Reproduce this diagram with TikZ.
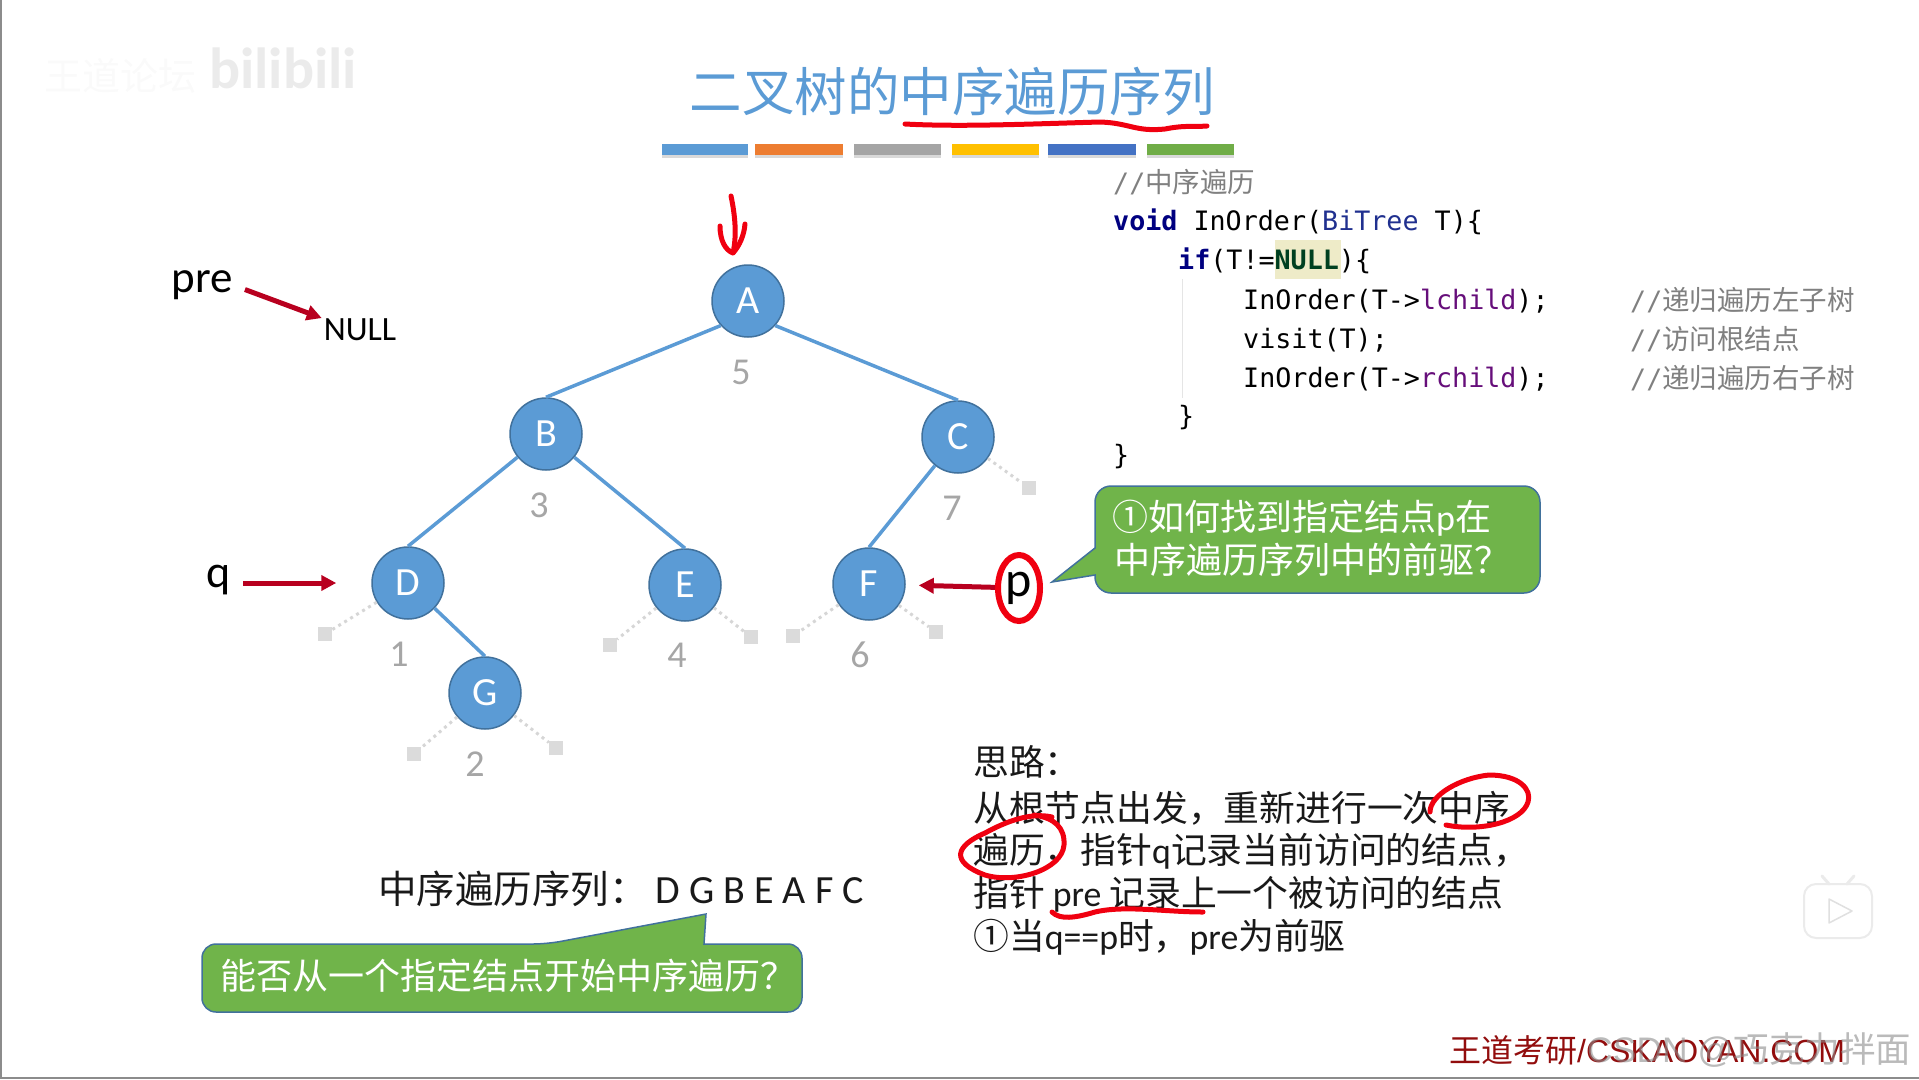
\documentclass[tikz,border=0pt]{standalone}
\usepackage{fontspec}
\setmainfont{Carlito}
\setmonofont{DejaVu Sans Mono}
\newfontfamily\cjk{Noto Sans CJK SC}
\newfontfamily\siteface{Liberation Sans}
\usepackage{xcolor}
\usetikzlibrary{shapes.geometric, shadows, positioning, calc, arrows.meta}

\definecolor{treeblue}{HTML}{5B9BD5}
\definecolor{treeedge}{HTML}{41719C}
\definecolor{boxgreen}{HTML}{70B44A}
\definecolor{darkarrow}{HTML}{B8001F}
\definecolor{inkred}{HTML}{F00010}
\definecolor{keyblue}{HTML}{000080}
\definecolor{typeblue}{HTML}{20308F}
\definecolor{fieldpurple}{HTML}{660E7A}
\definecolor{nullgreen}{HTML}{004020}
\definecolor{nullmark}{HTML}{EEEBC8}
\definecolor{barorange}{HTML}{ED7D31}
\definecolor{bargray}{HTML}{A5A5A5}
\definecolor{baryellow}{HTML}{FFC000}
\definecolor{barblue}{HTML}{4472C4}
\definecolor{bargreen}{HTML}{70AD47}

\newcommand{\notecjk}{\cjk\fontsize{27.5}{30}\selectfont}

\tikzset{
    treenode/.style={circle, draw=treeedge, fill=treeblue, line width=1.5pt, minimum size=72pt,
        inner sep=0pt, text=white, font=\fontsize{40}{44}\selectfont},
    treelink/.style={treeblue, line width=3.5pt},
    emptybox/.style={rectangle, fill=black!14, minimum size=14pt, inner sep=0pt},
    emptylink/.style={black!16, line width=3pt, dash pattern=on 3pt off 4pt},
    ordernum/.style={text=black!35, font=\fontsize{38}{42}\selectfont},
    redarrow/.style={darkarrow, line width=5pt, -{Triangle[length=15pt,width=15pt]}},
    inkstroke/.style={inkred, line width=5pt, line cap=round, line join=round},
    colorbar/.style={fill=#1, drop shadow={shadow xshift=0pt, shadow yshift=-2.5pt, opacity=0.3}},
    codeline/.style={anchor=base west, inner sep=0pt, font=\fontsize{26.7}{30}\selectfont\ttfamily},
    codenote/.style={anchor=base west, inner sep=0pt, text=black!50, font=\fontsize{26.7}{30}\selectfont\ttfamily},
    bodyline/.style={anchor=base west, inner sep=0pt, text=black!90, font=\fontsize{35.8}{40}\selectfont\cjk},
    calloutbox/.style={fill=boxgreen, draw=treeedge, line width=1.5pt},
    callouttext/.style={anchor=base west, inner sep=0pt, text=white, font=\fontsize{36}{40}\selectfont\cjk},
}

\begin{document}
\begin{tikzpicture}[x=1pt, y=-1pt]
        \useasboundingbox (0,0) rectangle (1919,1079);
        \draw[black!45, line width=2pt] (1,0) -- (1,1078) -- (1919,1078);

        % ==========================================
        % Faint Video Marks
        % ==========================================
        \node[text=black!2, font=\fontsize{38}{42}\selectfont\cjk] (forum) at (120,76) {王道论坛};
        \node[text=black!8, font=\fontsize{58}{62}\selectfont\bfseries] (bililogo) at (283,68) {bilibili};

        \draw[fill=white, draw=black!8, line width=2pt, rounded corners=12pt] (1804,884) rectangle (1872,938);
        \draw[black!8, line width=3pt, line cap=round] (1822,876) -- (1829,884) (1854,876) -- (1847,884);
        \draw[fill=white, draw=black!12, line width=1.5pt, line join=round] (1829,899) -- (1852,911) -- (1829,923) -- cycle;

        % ==========================================
        % Title and Colour Bars
        % ==========================================
        \node[text=treeblue, font=\fontsize{52.5}{56}\selectfont\cjk] (title) at (952,92) {二叉树的中序遍历序列};
        \draw[inkstroke] (905,124) .. controls (960,127) and (1030,124) .. (1100,122)
              .. controls (1130,123) and (1135,132) .. (1165,129) .. controls (1185,125) and (1195,127) .. (1207,126);

        \path[colorbar=treeblue]   (662,144) rectangle (748,155);
        \path[colorbar=barorange]  (755,144) rectangle (843,155);
        \path[colorbar=bargray]    (854,144) rectangle (941,155);
        \path[colorbar=baryellow]  (952,144) rectangle (1039,155);
        \path[colorbar=barblue]    (1048,144) rectangle (1136,155);
        \path[colorbar=bargreen]   (1147,144) rectangle (1234,155);

        % ==========================================
        % Binary Tree
        % ==========================================
        \node[treenode] (A) at (748,301) {A};
        \node[treenode] (B) at (546,434) {B};
        \node[treenode] (C) at (958,437) {C};
        \node[treenode] (D) at (408,583) {D};
        \node[treenode] (E) at (685,585) {E};
        \node[treenode] (F) at (869,584) {F};
        \node[treenode] (G) at (485,693) {G};

        \draw[treelink] (A.222) -- (B.north);
        \draw[treelink] (A.318) -- (C.north);
        \draw[treelink] (B) -- (D.north);
        \draw[treelink] (B) -- (E.north);
        \draw[treelink] (C) -- (F.north);
        \draw[treelink] (D) -- (G.north);

        % Empty children
        \node[emptybox] (nullC) at (1029,488) {};
        \node[emptybox] (nullD) at (325,634) {};
        \node[emptybox] (nullEl) at (610,645) {};
        \node[emptybox] (nullEr) at (751,637) {};
        \node[emptybox] (nullFl) at (793,636) {};
        \node[emptybox] (nullFr) at (936,632) {};
        \node[emptybox] (nullGl) at (414,754) {};
        \node[emptybox] (nullGr) at (556,748) {};

        \draw[emptylink] (C) -- (nullC);
        \draw[emptylink] (D) -- (nullD);
        \draw[emptylink] (E) -- (nullEl);
        \draw[emptylink] (E) -- (nullEr);
        \draw[emptylink] (F) -- (nullFl);
        \draw[emptylink] (F) -- (nullFr);
        \draw[emptylink] (G) -- (nullGl);
        \draw[emptylink] (G) -- (nullGr);

        % Visit order
        \node[ordernum] (numA) at (741,372) {5};
        \node[ordernum] (numB) at (539,505) {3};
        \node[ordernum] (numC) at (952,508) {7};
        \node[ordernum] (numD) at (399,654) {1};
        \node[ordernum] (numE) at (677,655) {4};
        \node[ordernum] (numF) at (860,655) {6};
        \node[ordernum] (numG) at (475,764) {2};

        % ==========================================
        % Pointers
        % ==========================================
        \node[inner sep=0pt, font=\fontsize{45}{48}\selectfont] (pre) at (202,285) {pre};
        \node[inner sep=0pt, font=\fontsize{34}{38}\selectfont] (nullval) at (360,330) {NULL};
        \draw[redarrow, shorten <=13pt, shorten >=2pt] (pre.east) -- (nullval.north west);

        \node[inner sep=0pt, font=\fontsize{46}{50}\selectfont] (q) at (219,580) {q};
        \draw[redarrow, shorten <=12pt, shorten >=35pt] (q.east |- D) -- (D);

        \node[ellipse, draw=inkred, line width=6pt, inner sep=0pt, minimum width=42pt, minimum height=66pt,
              font=\fontsize{50}{54}\selectfont] (p) at (1019,588) {p};
        \draw[redarrow, shorten >=13pt] (p) -- (F);

        % Hand-drawn arrow above the root
        \draw[inkstroke] (731,196) .. controls (735,215) and (737,235) .. (733,253);
        \draw[inkstroke] (720,226) .. controls (720,240) and (725,250) .. (733,253) .. controls (740,245) and (744,235) .. (745,224);

        % ==========================================
        % Code
        % ==========================================
        \node[codenote] (code1) at (1113,192) {//{\notecjk 中序遍历}};
        \node[codeline] (code2) at (1113,230) {\textbf{\textcolor{keyblue}{void}} InOrder(\textcolor{typeblue}{BiTree} T)\{};
        \fill[nullmark] (1275,240) rectangle (1341,279);
        \node[codeline] (code3) at (1178,269) {\textbf{\textcolor{keyblue}{if}}(T!=\textbf{\textcolor{nullgreen}{NULL}})\{};
        \draw[black!10, line width=1pt] (1182,279) -- (1182,398);
        \node[codeline] (code4) at (1243,309) {InOrder(T->\textcolor{fieldpurple}{lchild});};
        \node[codeline] (code5) at (1243,348) {visit(T);};
        \node[codeline] (code6) at (1243,387) {InOrder(T->\textcolor{fieldpurple}{rchild});};
        \node[codeline] (code7) at (1178,425) {\}};
        \node[codeline] (code8) at (1113,464) {\}};

        \node[codenote] (note4) at (1630,310) {//{\notecjk 递归遍历左子树}};
        \node[codenote] (note5) at (1630,349) {//{\notecjk 访问根结点}};
        \node[codenote] (note6) at (1630,388) {//{\notecjk 递归遍历右子树}};

        % ==========================================
        % Callouts
        % ==========================================
        \draw[calloutbox, rounded corners=16pt] (1095,548) -- (1095,486) -- (1540,486) -- (1540,593) -- (1095,593)
              [sharp corners] -- (1095,575) -- (1052,582) -- cycle;
        \node[callouttext] (ask1) at (1112,530) {①如何找到指定结点{\rmfamily p}在};
        \node[callouttext] (ask2) at (1114,573) {中序遍历序列中的前驱？};

        \draw[calloutbox, rounded corners=14pt] (202,944) -- (547,944) [sharp corners] -- (706,914) -- (704,944)
              [rounded corners=14pt] -- (802,944) -- (802,1012) -- (202,1012) -- cycle;
        \node[callouttext] (ask3) at (220,989) {能否从一个指定结点开始中序遍历？};

        % ==========================================
        % Sequence and Notes
        % ==========================================
        \node[bodyline, font=\fontsize{38.5}{42}\selectfont\cjk] (seq) at (378,903)
              {中序遍历序列：\hspace{8pt}{\rmfamily\fontsize{40}{42}\selectfont D G B E A F C}};

        \node[bodyline] (idea0) at (973,775) {思路：};
        \node[bodyline] (idea1) at (973,821) {从根节点出发，重新进行一次中序};
        \node[bodyline] (idea2) at (973,863) {遍历，指针{\rmfamily q}记录当前访问的结点，};
        \node[bodyline] (idea3) at (973,906) {指针 {\rmfamily pre} 记录上一个被访问的结点};
        \node[bodyline] (idea4) at (973,949) {①当{\rmfamily q==p}时，{\rmfamily pre}为前驱};

        \draw[inkstroke] (1430,812) .. controls (1430,795) and (1460,778) .. (1489,775)
              .. controls (1520,775) and (1532,790) .. (1528,802) .. controls (1522,822) and (1480,832) .. (1446,825);
        \draw[inkstroke] (1052,817) .. controls (1030,812) and (1005,822) .. (985,833)
              .. controls (955,846) and (950,862) .. (985,875) .. controls (1015,884) and (1062,870) .. (1064,845)
              .. controls (1065,828) and (1055,818) .. (1034,815);
        \draw[inkstroke] (1052,912) .. controls (1060,920) and (1075,918) .. (1095,912)
              .. controls (1125,905) and (1165,912) .. (1203,912);

        % ==========================================
        % Site Name
        % ==========================================
        \node[anchor=base west, inner sep=0pt, text=red!55!black!95, font=\fontsize{32}{36}\selectfont\siteface] (site) at (1449,1062)
              {{\cjk 王道考研}/CSKAOYAN.COM};
        \node[anchor=base west, inner sep=0pt, text=black!45, opacity=0.6, font=\fontsize{35.5}{40}\selectfont\siteface] (csdn) at (1587,1062)
              {CSDN @{\cjk 巧克力拌面}};

    \end{tikzpicture}
\end{document}
